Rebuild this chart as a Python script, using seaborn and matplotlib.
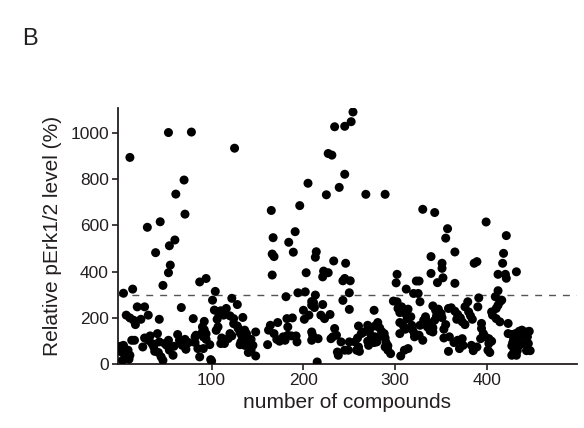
import matplotlib
matplotlib.use("Agg")
import matplotlib.pyplot as plt
import seaborn as sns
import pandas as pd

# Points (compound number, relative pErk1/2 level %)
compound_number = [
    11, 4, 14, 30, 44, 39, 54, 60, 53, 61, 55, 53, 47,
    78, 125, 70, 71, 87, 94, 67, 104, 101, 122,
    165, 167, 166, 168, 166, 184, 191, 189, 181,
    254, 252, 245, 234, 227, 231, 245, 239, 225, 205, 196,
    214, 213, 233, 246, 203, 222, 227, 243, 251, 194, 202, 213, 250, 243, 250, 209,
    268, 289, 302, 301, 312, 320,
    330, 343, 357, 355, 365, 339, 351, 351, 339, 352, 346, 365, 326, 386, 325, 327,
    399, 421, 418, 417, 432, 412, 420, 421, 389, 412, 409, 391, 414,
    221, 245, 211, 323,
    416, 412, 410, 405, 406, 410, 414,
    7, 11, 15, 17, 19, 27, 23, 31, 43, 80, 92, 90, 92, 90, 94,
    103, 110, 116, 108, 113, 106, 120, 124, 128, 134, 124, 128, 107, 105,
    1, 4, 13, 9, 5, 11, 2, 3, 10, 16, 25, 27, 31, 33, 35, 37, 38, 42, 41, 43, 45, 47,
    49, 51, 53, 54, 59, 58,
    63, 65, 68, 71, 72, 75, 82, 83, 82, 85, 87, 91, 93, 94, 98, 99, 91, 100,
    111, 114, 118, 120, 122, 110,
    129, 131, 133, 136, 138, 132, 131, 136, 138, 141, 143, 145, 148, 140, 143, 148,
    161, 162, 164, 168, 171, 172, 174, 178, 180, 183, 182, 183, 188, 187, 192, 193,
    200, 201, 206, 209, 212, 209, 210, 209, 216, 215, 219, 223, 229, 221, 234, 232,
    230, 236, 241, 237, 238, 245, 249,
    250,
    277, 281, 278, 283, 285, 288, 281, 280, 289, 290, 292, 292, 295, 289,
    270, 260, 266, 272, 274, 278, 277, 270, 263, 259, 256, 260, 261, 258, 271,
    298, 302, 303, 305, 307, 311, 313, 314, 317, 305, 309, 311, 305, 318, 319, 321,
    321, 326, 327, 331, 333, 335, 330, 314, 310, 306,
    341, 344, 347, 350, 345, 351, 343, 339, 335, 338, 341, 353, 355, 358, 361, 365,
    368, 367, 371, 373, 376, 376, 379, 380, 382, 384, 390,
    341, 353, 359, 364, 368, 373, 374, 370, 358, 383, 385, 389, 393, 394, 394, 396,
    398, 402, 402, 405, 401, 403,
    423, 423, 427, 431, 435, 438, 443, 446, 444, 439, 434, 429, 428, 427, 431, 435,
    440, 445, 443, 447, 433, 429, 427, 432,
]
perk_level = [
    895, 306, 324, 592, 616, 482, 512, 537, 1003, 736, 428, 395, 340,
    1005, 935, 797, 649, 355, 370, 244, 314, 276, 284,
    665, 547, 476, 465, 385, 527, 573, 484, 291,
    1092, 1050, 1030, 1028, 912, 905, 822, 765, 733, 783, 686,
    486, 462, 446, 436, 395, 402, 395, 360, 360, 308, 312, 298, 308, 275, 236, 270,
    735, 735, 388, 351, 324, 305,
    670, 656, 586, 545, 485, 465, 436, 414, 392, 373, 352, 349, 359, 436, 305, 269,
    615, 556, 479, 436, 399, 388, 388, 371, 443, 317, 291, 286, 269,
    377, 370, 266, 359,
    276, 254, 240, 225, 211, 196, 182,
    211, 199, 189, 170, 247, 247, 193, 211, 193, 196, 184, 160, 148, 138, 130,
    233, 230, 240, 211, 211, 193, 208, 196, 257, 201, 174, 164, 160, 145,
    76, 80, 102, 59, 44, 37, 51, 15, 20, 102, 73, 112, 102, 121, 88, 73, 54, 49, 131, 95, 30, 15,
    88, 80, 102, 59, 76, 37,
    127, 102, 80, 106, 63, 92, 117, 124, 92, 66, 30, 117, 131, 106, 83, 18, 66, 12,
    112, 88, 109, 131, 121, 88,
    153, 135, 121, 146, 131, 95, 83, 80, 98, 88, 106, 80, 138, 49, 59, 34,
    83, 146, 167, 131, 106, 179, 98, 117, 102, 124, 196, 160, 199, 121, 121, 95,
    232, 193, 211, 254, 244, 138, 124, 102, 109, 8, 211, 196, 214, 257, 153, 117,
    109, 124, 95, 51, 37, 59, 59,
    95,
    232, 179, 164, 156, 141, 131, 112, 95, 112, 92, 78, 59, 44, 73,
    167, 164, 138, 146, 121, 117, 92, 98, 131, 112, 95, 73, 54, 59, 80,
    272, 269, 240, 222, 247, 218, 196, 237, 204, 179, 164, 150, 131, 167, 146, 131,
    117, 124, 167, 189, 204, 182, 102, 66, 59, 34,
    251, 232, 237, 218, 208, 200, 189, 174, 160, 143, 156, 150, 170, 240, 243, 228,
    214, 193, 199, 182, 170, 247, 269, 225, 208, 193, 247,
    138, 112, 117, 92, 102, 109, 80, 66, 54, 80, 57, 73, 109, 153, 175, 131,
    117, 109, 88, 98, 59, 49,
    175, 131, 127, 131, 141, 146, 138, 141, 117, 124, 114, 106, 92, 78, 70, 80,
    88, 88, 57, 57, 57, 49, 37, 37,
]
threshold = 300
x_ticks = [100, 200, 300, 400]
y_ticks = [0, 200, 400, 600, 800, 1000]

df = pd.DataFrame({"compound": compound_number, "level": perk_level})

sns.set_theme(style="ticks")
plt.rcParams["font.family"] = ["Liberation Sans", "DejaVu Sans"]

fig = plt.figure(figsize=(5.84, 4.28), dpi=100)
ax = fig.add_axes([0.202, 0.150, 0.786, 0.598])

sns.scatterplot(data=df, x="compound", y="level", ax=ax, color="black",
                s=42, linewidth=0, edgecolor="none", zorder=3)
ax.axhline(threshold, color="#555555", lw=1.0, linestyle=(0, (5, 5)), zorder=2)

ax.set_xlim(-2, 498)
ax.set_ylim(0, 1110)
ax.set_xticks(x_ticks)
ax.set_yticks(y_ticks)
ax.tick_params(axis="both", direction="out", length=4.5, width=1.2,
               color="#231f20", labelsize=12.5, labelcolor="#231f20", pad=2)
for side in ["left", "bottom"]:
    ax.spines[side].set_linewidth(1.3)
    ax.spines[side].set_color("#231f20")
sns.despine(ax=ax)

ax.set_xlabel("number of compounds", fontsize=15, color="#231f20", labelpad=4)
ax.set_ylabel("Relative pErk1/2 level (%)", fontsize=15, color="#231f20", labelpad=6)

fig.text(0.038, 0.895, "B", fontsize=17, color="#231f20")

fig.savefig("out.png", dpi=100)
